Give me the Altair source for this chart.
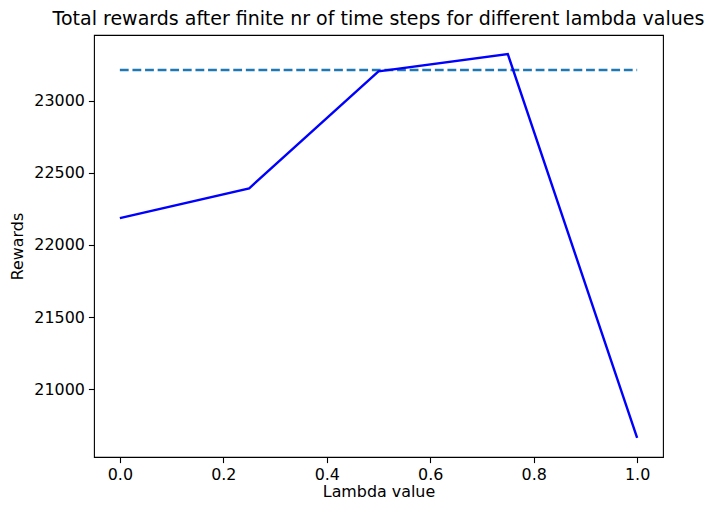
import altair as alt
import pandas as pd

lambdas = [0.0, 0.25, 0.5, 0.75, 1.0]
rewards = [22186, 22393, 23205, 23324, 20662]
baseline_x = [0.0, 1.0]
baseline_y = [23214, 23214]
x_ticks = [0.0, 0.2, 0.4, 0.6, 0.8, 1.0]
y_ticks = [21000, 21500, 22000, 22500, 23000]

df = pd.DataFrame({"lam": lambdas, "reward": rewards})
df_base = pd.DataFrame({"lam": baseline_x, "reward": baseline_y})

FONT = "DejaVu Sans"
FS = 15.9
xscale = alt.Scale(domain=[-0.05, 1.05], nice=False, zero=False)
yscale = alt.Scale(domain=[20529, 23457], nice=False, zero=False)

common = dict(grid=False, domain=False, tickColor="black", tickSize=5.6, tickWidth=1.1,
              labelPadding=4, labelFontSize=FS, titleFontSize=FS, labelColor="black",
              titleColor="black", titleFontWeight="normal", labelFont=FONT,
              titleFont=FONT, labelFlush=False)
xaxis = alt.Axis(title="Lambda value", values=x_ticks, format=".1f",
                 titleBaseline="alphabetic", titleY=39, **common)
yaxis = alt.Axis(title="Rewards", values=y_ticks, format="d", titlePadding=8, **common)

line = alt.Chart(df).mark_line(color="#0000ff", strokeWidth=2.4).encode(
    x=alt.X("lam:Q", scale=xscale, axis=xaxis),
    y=alt.Y("reward:Q", scale=yscale, axis=yaxis),
)
base = alt.Chart(df_base).mark_line(color="#1f77b4", strokeWidth=2.4,
                                    strokeDash=[8.8, 3.8]).encode(
    x=alt.X("lam:Q", scale=xscale),
    y=alt.Y("reward:Q", scale=yscale),
)

chart = (base + line).properties(
    width=569, height=422,
    title=alt.TitleParams("Total rewards after finite nr of time steps for different lambda values",
                          font=FONT, fontSize=19, fontWeight="normal", color="black",
                          anchor="middle", offset=6),
    autosize="none",
    padding={"left": 86, "top": 27, "right": 41, "bottom": 43},
).configure(background="white").configure_view(stroke="black", strokeWidth=1.1)

chart.save("out.html", embed_options={"renderer": "svg", "actions": False})
